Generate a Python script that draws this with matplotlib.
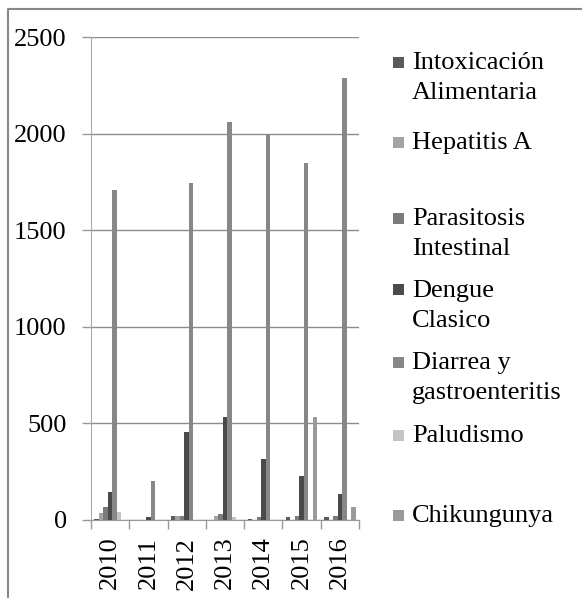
import numpy as np
import matplotlib
matplotlib.use("Agg")
import matplotlib.pyplot as plt
from matplotlib.patches import Rectangle
from matplotlib.lines import Line2D

# -----------------------
# Datos
# -----------------------
years = ['2010', '2011', '2012', '2013', '2014', '2015', '2016']
series_names = ['Intoxicación\nAlimentaria', 'Hepatitis A', 'Parasitosis\nIntestinal',
                'Dengue\nClasico', 'Diarrea y\ngastroenteritis', 'Paludismo', 'Chikungunya']
intoxicacion = [7, 0, 21, 0, 5, 14, 14]
hepatitis_a = [34, 0, 21, 22, 0, 0, 0]
parasitosis = [69, 0, 21, 29, 14, 22, 22]
dengue = [147, 14, 453, 533, 315, 228, 134]
diarrea = [1710, 202, 1745, 2059, 2000, 1847, 2289]
paludismo = [41, 0, 0, 15, 0, 0, 0]
chikungunya = [0, 0, 0, 0, 0, 533, 69]
y_ticks = [0, 500, 1000, 1500, 2000, 2500]

# -----------------------
# Estilo
# -----------------------
colors = ['#5a5a5a', '#a4a4a4', '#7b7b7b', '#4a4a4a', '#878787', '#c4c4c4', '#9a9a9a']
FONT = 'Liberation Serif'
FS = 19
W, H = 582, 598

plt.rcParams['font.family'] = [FONT, 'DejaVu Serif']

fig = plt.figure(figsize=(W / 100, H / 100), dpi=100)
ax = fig.add_axes([91 / W, (H - 520) / H, 268 / W, 483 / H])

data = [intoxicacion, hepatitis_a, parasitosis, dengue, diarrea, paludismo, chikungunya]
x = np.arange(len(years))
bw = 1 / 8.5
for i, vals in enumerate(data):
    ax.bar(x + (i - 3) * bw, vals, width=bw, color=colors[i], linewidth=0, zorder=3)

ax.set_xlim(-0.5, len(years) - 0.5)
ax.set_ylim(0, 2500)
ax.set_yticks(y_ticks)
ax.set_yticklabels([str(v) for v in y_ticks], fontsize=FS)
ax.yaxis.grid(True, color='#8c8c8c', linewidth=1.0, zorder=0)

ax.set_xticks(x)
ax.set_xticklabels(years, rotation=90, fontsize=FS)
ax.set_xticks(np.arange(-0.5, len(years)), minor=True)
ax.tick_params(axis='x', which='major', length=0, pad=12)
ax.tick_params(axis='x', which='minor', length=6.5, color='#999999', width=1)
ax.tick_params(axis='y', length=6.5, color='#999999', width=1, pad=11)

for s in ['top', 'right']:
    ax.spines[s].set_visible(False)
ax.spines['left'].set_color('#aaaaaa')
ax.spines['bottom'].set_color('#999999')

# -----------------------
# Leyenda manual
# -----------------------
legend_y = [62, 142, 218, 290, 362, 435, 515]
for name, col, yc in zip(series_names, colors, legend_y):
    fig.add_artist(Rectangle(((393) / W, (H - yc - 5.5) / H), 11 / W, 11 / H,
                             transform=fig.transFigure, color=col, linewidth=0))
    fig.text(412 / W, (H - yc + 10) / H, name, fontsize=FS, va='top', ha='left',
             linespacing=1.45)

# marco exterior
fig.add_artist(Line2D([8 / W, 8 / W, 1.0], [0.0, (H - 9) / H, (H - 9) / H],
                      transform=fig.transFigure, color='#888888', linewidth=1.5))

fig.savefig('out.png', dpi=100)
